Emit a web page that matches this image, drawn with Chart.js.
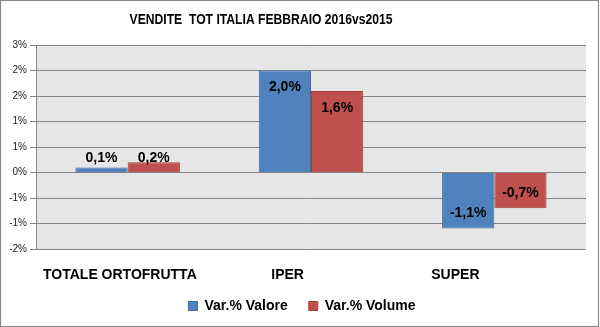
<!DOCTYPE html>
<html>
<head>
<meta charset="utf-8">
<script src="https://cdn.jsdelivr.net/npm/chart.js@4/dist/chart.umd.min.js"></script>
<style>
  html, body { margin: 0; padding: 0; background: #ffffff; }
  #wrap { width: 600px; height: 327px; position: relative; }
</style>
</head>
<body>
<div id="wrap"><canvas id="c" width="600" height="327"></canvas></div>
<script>
// Chart content
const chartTitle = 'VENDITE  TOT ITALIA FEBBRAIO 2016vs2015';
const categories = ['TOTALE ORTOFRUTTA', 'IPER', 'SUPER'];
const seriesNames = ['Var.% Valore', 'Var.% Volume'];
const valore = [0.1, 2.0, -1.1];
const volume = [0.2, 1.6, -0.7];
const yTicks = [-1.5, -1, -0.5, 0, 0.5, 1, 1.5, 2, 2.5];
const yTickLabels = ['-2%', '-1%', '-1%', '0%', '1%', '1%', '2%', '2%', '3%'];

const FONT = '"Liberation Sans", Arial, sans-serif';

// Grey plot background, white page with thin grey frame
const frame = {
  id: 'frame',
  beforeDraw(chart) {
    const { ctx, chartArea: a } = chart;
    ctx.save();
    ctx.fillStyle = '#ffffff';
    ctx.fillRect(0, 0, chart.width, chart.height);
    ctx.fillStyle = '#e6e6e6';
    ctx.fillRect(a.left, a.top, a.right - a.left, a.bottom - a.top);
    ctx.restore();
  },
  afterDraw(chart) {
    const { ctx } = chart;
    ctx.save();
    ctx.strokeStyle = '#8a8a8a';
    ctx.lineWidth = 1.2;
    ctx.strokeRect(0.5, 0.5, chart.width - 2, chart.height - 1);
    ctx.restore();
  }
};

// Condensed bold title, slightly left of centre
const titleText = {
  id: 'titleText',
  afterDraw(chart) {
    const { ctx } = chart;
    ctx.save();
    ctx.font = 'bold 15px ' + FONT;
    ctx.fillStyle = '#000';
    ctx.textAlign = 'center';
    ctx.textBaseline = 'middle';
    ctx.translate(chart.width * 0.435, 20);
    ctx.scale(0.81, 1);
    ctx.fillText(chartTitle, 0, 0);
    ctx.restore();
  }
};

// Category names under the plot
const categoryLabels = {
  id: 'categoryLabels',
  afterDraw(chart) {
    const { ctx } = chart;
    const xs = chart.scales.x;
    ctx.save();
    ctx.font = 'bold 14px ' + FONT;
    ctx.fillStyle = '#000';
    ctx.textAlign = 'center';
    ctx.textBaseline = 'middle';
    categories.forEach((c, i) => {
      const x = xs.left + (xs.getPixelForValue(i) - xs.left) * 0.915;
      ctx.fillText(c, x, xs.top + 26);
    });
    ctx.restore();
  }
};

// Value labels on the bars
const valueLabels = {
  id: 'valueLabels',
  afterDatasetsDraw(chart) {
    const { ctx } = chart;
    ctx.save();
    ctx.font = 'bold 14px ' + FONT;
    ctx.fillStyle = '#000';
    ctx.textAlign = 'center';
    ctx.textBaseline = 'middle';
    chart.data.datasets.forEach((ds, di) => {
      chart.getDatasetMeta(di).data.forEach((bar, i) => {
        const v = ds.data[i];
        const len = Math.abs(bar.base - bar.y);
        let y;
        if (len > 30) y = v >= 0 ? bar.y + 17 : bar.y - 15;
        else y = bar.base - 14;
        ctx.fillText(v.toFixed(1).replace('.', ',') + '%', bar.x, y);
      });
    });
    ctx.restore();
  }
};

// Nudge the legend box a little to the right
const legendShift = {
  id: 'legendShift',
  afterLayout(chart) {
    const lg = chart.legend;
    if (lg) { lg.left += 9; lg.right += 9; }
  }
};

new Chart(document.getElementById('c'), {
  type: 'bar',
  data: {
    labels: categories,
    datasets: [
      { label: seriesNames[0], data: valore, backgroundColor: '#4f81bd', borderColor: '#3d6aa0', borderWidth: 1 },
      { label: seriesNames[1], data: volume, backgroundColor: '#c0504d', borderColor: '#9e3f3c', borderWidth: 1 }
    ]
  },
  options: {
    responsive: false,
    animation: false,
    devicePixelRatio: 1,
    layout: { padding: { top: 45, right: 14, left: 0, bottom: 4 } },
    datasets: { bar: { categoryPercentage: 0.57, barPercentage: 1.0 } },
    scales: {
      x: {
        grid: { display: false },
        border: { display: false },
        ticks: { color: 'transparent', font: { family: FONT, size: 14, weight: 'bold' } },
        afterFit(scale) { scale.height = 29; }
      },
      y: {
        min: -1.5,
        max: 2.5,
        afterBuildTicks(scale) { scale.ticks = yTicks.map(v => ({ value: v })); },
        afterFit(scale) { scale.width = 36; },
        grid: { color: '#868686', tickLength: 6, drawTicks: true },
        border: { display: true, color: '#868686' },
        ticks: {
          padding: 3,
          color: '#222',
          font: { family: FONT, size: 10 },
          callback: (v) => yTickLabels[yTicks.indexOf(v)]
        }
      }
    },
    plugins: {
      title: { display: false },
      tooltip: { enabled: false },
      legend: {
        position: 'bottom',
        labels: {
          boxWidth: 9,
          boxHeight: 9,
          padding: 21,
          color: '#000',
          font: { family: FONT, size: 14, weight: 'bold' }
        }
      }
    }
  },
  plugins: [frame, titleText, categoryLabels, valueLabels, legendShift]
});
</script>
</body>
</html>
